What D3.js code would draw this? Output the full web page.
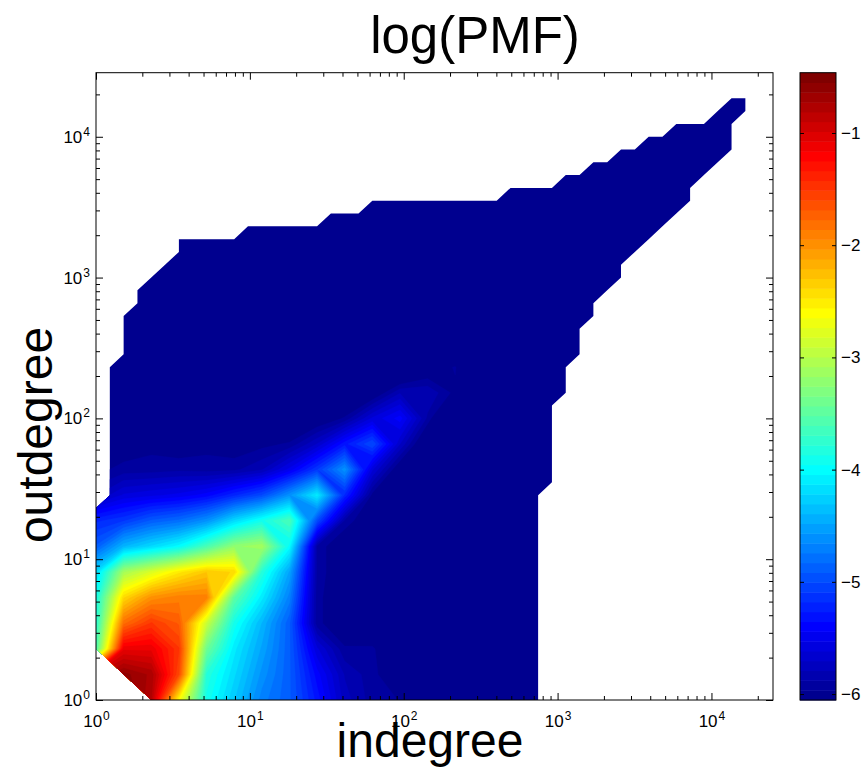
<!DOCTYPE html>
<html><head><meta charset="utf-8">
<script src="https://cdn.jsdelivr.net/npm/d3@7"></script>
<style>
body{margin:0;background:#fff;}
svg{display:block;}
text{font-family:"Liberation Sans",Arial,Helvetica,sans-serif;fill:#000;}
</style>
</head><body>
<svg id="chart" width="861" height="768"></svg>
<script>
// ---------------- DATA ----------------
const titleText = "log(PMF)";
const xLabelText = "indegree";
const yLabelText = "outdegree";

// log10 extents of the binned degree grid (50 log-spaced bins per axis)
const logXMax = 4.4;
const logYMax = 4.455;
const nBins = 50;

// support of the histogram: for each indegree bin j, highest / lowest non-empty outdegree bin
const maskTop = [15,26,30,32,33,34,36,36,36,36,36,37,37,37,37,37,37,38,38,38,
                 39,39,39,39,39,39,39,39,39,39,40,40,40,40,41,41,42,42,43,43,
                 44,44,45,45,45,46,47,47];
const maskBottom = [4,3,2,1,0,0,0,0,0,0,0,0,0,0,0,0,0,0,0,0,
                    0,0,0,0,0,0,0,0,0,0,0,0,0,17,24,27,30,32,33,35,
                    36,37,38,39,41,42,43,46];

// log10(PMF) sampled every 2nd bin (rows = outdegree bins 0,2,4..., cols = indegree bins 0,2,4...)
const logPmf = [
  [-0.9,-0.5,-0.8,-2.6,-3.9,-4.3,-4.7,-4.9,-5.3,-5.75,-5.92,-5.97,-6.3,-6.5,-6.5],
  [-0.9,-0.6,-0.75,-1.6,-3.8,-4.2,-4.6,-4.9,-5.4,-5.8,-5.93,-6.1,-6.3,-6.5,-6.5],
  [-3.6,-1.1,-1.1,-1.5,-3.4,-4.1,-4.5,-4.9,-5.6,-5.95,-5.94,-6.2,-6.4,-6.5,-6.5],
  [-3.8,-1.8,-1.5,-1.7,-2.9,-3.9,-4.4,-4.9,-5.93,-6.1,-6.2,-6.3,-6.4,-6.5,-6.5],
  [-3.9,-2.4,-2.0,-1.9,-1.9,-3.5,-4.1,-4.7,-5.93,-6.1,-6.2,-6.3,-6.4,-6.5,-6.5],
  [-4.2,-3.1,-2.8,-2.5,-2.3,-2.4,-3.8,-4.5,-5.9,-6.1,-6.2,-6.3,-6.4,-6.5,-6.5],
  [-4.9,-4.4,-4.2,-4.0,-3.6,-3.2,-3.1,-4.0,-5.9,-6.1,-6.2,-6.3,-6.4,-6.5,-6.5],
  [-5.2,-5.1,-4.9,-4.8,-4.6,-4.2,-3.9,-3.6,-5.0,-5.9,-6.1,-6.3,-6.4,-6.5,-6.5],
  [-5.8,-5.6,-5.55,-5.5,-5.4,-5.2,-5.0,-4.6,-4.1,-5.2,-6.0,-6.2,-6.4,-6.5,-6.5],
  [-6.0,-5.93,-5.92,-5.9,-5.92,-5.9,-5.8,-5.5,-5.1,-4.6,-5.6,-6.1,-6.3,-6.5,-6.5],
  [-6.2,-6.05,-6.0,-6.05,-6.0,-6.05,-6.0,-5.95,-5.7,-5.3,-5.0,-5.7,-6.2,-6.5,-6.5],
  [-6.3,-6.2,-6.2,-6.2,-6.2,-6.2,-6.2,-6.2,-6.1,-5.95,-5.6,-5.4,-5.9,-6.4,-6.5],
  [-6.4,-6.3,-6.3,-6.3,-6.3,-6.3,-6.3,-6.3,-6.3,-6.2,-6.1,-5.8,-5.8,-6.0,-6.5],
  [-6.5,-6.5,-6.5,-6.5,-6.5,-6.5,-6.5,-6.5,-6.5,-6.5,-6.5,-6.3,-6.1,-5.95,-6.5],
  [-6.5,-6.5,-6.5,-6.5,-6.5,-6.5,-6.5,-6.5,-6.5,-6.5,-6.5,-6.5,-6.5,-6.5,-6.5]
];
const sampleStep = 2;

const colorRange = [-6.053, -0.463];
const nColors = 64;
const colorbarTicks = [-6,-5,-4,-3,-2,-1];
const majorTicks = [1,10,100,1000,10000];
const minorMultipliers = [2,3,4,5,6,7,8,9];

// ---------------- LAYOUT ----------------
const W = 861, H = 768;
const plot = {left:96, right:773, top:72.7, bottom:700};
const cbar = {left:800, right:836, top:72.7, bottom:700};
const FONT = '"Liberation Sans",Arial,Helvetica,sans-serif';

const svg = d3.select("#chart");
svg.append("rect").attr("width",W).attr("height",H).attr("fill","#fff");

const dxLog = logXMax/(nBins-1), dyLog = logYMax/(nBins-1);
const x = d3.scaleLog().domain([1, Math.pow(10,logXMax)]).range([plot.left, plot.right]);
const y = d3.scaleLog().domain([1, Math.pow(10,logYMax)]).range([plot.bottom, plot.top]);
const xb = j => x(Math.pow(10, j*dxLog));
const yb = i => y(Math.pow(10, i*dyLog));

// MATLAB jet(64) colormap
function jetMap(m){
  const n = Math.ceil(m/4);
  const u = [];
  for(let i=1;i<=n;i++) u.push(i/n);
  for(let i=1;i<n;i++) u.push(1);
  for(let i=n;i>=1;i--) u.push(i/n);
  const g0 = Math.ceil(n/2) - (m%4===1?1:0);
  const J = Array.from({length:m},()=>[0,0,0]);
  u.forEach((val,idx)=>{
    const g = g0 + idx + 1, r = g + n, b = g - n;
    if(r>=1 && r<=m) J[r-1][0]=val;
    if(g>=1 && g<=m) J[g-1][1]=val;
    if(b>=1 && b<=m) J[b-1][2]=val;
  });
  return J.map(c=>d3.rgb(c[0]*255,c[1]*255,c[2]*255).toString());
}
const jet = jetMap(nColors);
const step = (colorRange[1]-colorRange[0])/nColors;

// ---------------- MASK (support polygon) ----------------
function maskPolygon(){
  const nCol = maskTop.length;
  const top = [[0, maskTop[0]]];
  for(let j=0;j<nCol-1;j++){
    const h = maskTop[j], h2 = maskTop[j+1];
    if(h2>h){ top.push([j+1,h+1]); top.push([j+1,h2]); }
    else if(h2<h){ top.push([j,h2+1]); top.push([j+1,h2]); }
    else top.push([j+1,h2]);
  }
  const bot = [[0, maskBottom[0]]];
  for(let j=0;j<nCol-1;j++){
    const l = maskBottom[j], l2 = maskBottom[j+1];
    if(l2>l){ bot.push([j,l2-1]); bot.push([j+1,l2]); }
    else if(l2<l){ bot.push([j+1,l-1]); bot.push([j+1,l2]); }
    else bot.push([j+1,l2]);
  }
  const pts = top.concat(bot.reverse());
  return pts.map(p=>[xb(p[0]), yb(p[1])]);
}
const defs = svg.append("defs");
defs.append("clipPath").attr("id","maskClip")
  .append("polygon").attr("points", maskPolygon().map(p=>p.join(",")).join(" "));

// ---------------- CONTOURS ----------------
const R = logPmf.length, C = logPmf[0].length;
const values = [];
for(let r=0;r<R;r++) for(let c=0;c<C;c++) values.push(logPmf[r][c]);
const thresholds = d3.range(1,nColors).map(k=>colorRange[0]+k*step);
const contours = d3.contours().size([C,R]).thresholds(thresholds)(values);

const proj = d3.geoTransform({
  point: function(u,v){
    const lx = (u-0.5)*sampleStep*dxLog, ly = (v-0.5)*sampleStep*dyLog;
    this.stream.point(x(Math.pow(10,lx)), y(Math.pow(10,ly)));
  }
});
const path = d3.geoPath(proj);

const gMap = svg.append("g").attr("clip-path","url(#maskClip)");
gMap.append("rect").attr("x",plot.left-20).attr("y",plot.top).attr("width",plot.right-plot.left+20)
  .attr("height",plot.bottom-plot.top+20).attr("fill",jet[0]);
gMap.selectAll("path.band").data(contours).join("path")
  .attr("class","band")
  .attr("d",path)
  .attr("fill",(d,i)=>jet[i+1])
  .attr("stroke",(d,i)=>jet[i+1])
  .attr("stroke-width",0.3);

// ---------------- AXES ----------------
function minorTicks(maxVal){
  const t=[];
  for(let e=0;e<=5;e++) minorMultipliers.forEach(k=>{ const v=k*Math.pow(10,e); if(v<=maxVal) t.push(v); });
  return t;
}
const xMinor = minorTicks(x.domain()[1]);
const yMinor = minorTicks(y.domain()[1]);
const expOf = v => Math.round(Math.log10(v));

function styleAxis(g){
  g.attr("font-family",FONT);
  g.select(".domain").remove();
  g.selectAll(".tick line").attr("stroke","#000").attr("stroke-width",1);
}
function supLabels(g){
  g.selectAll(".tick text").each(function(d){
    const t = d3.select(this);
    t.text(null).attr("font-size",17).attr("fill","#000");
    t.append("tspan").text("10");
    t.append("tspan").attr("font-size",12).attr("dx",1).attr("dy",-7).text(expOf(d));
  });
}
// bottom
svg.append("g").attr("transform",`translate(0,${plot.bottom})`)
  .call(d3.axisBottom(x).tickValues(majorTicks).tickSize(-7).tickSizeOuter(0).tickPadding(15).tickFormat(d=>d))
  .call(styleAxis).call(supLabels);
svg.append("g").attr("transform",`translate(0,${plot.bottom})`)
  .call(d3.axisBottom(x).tickValues(xMinor).tickSize(-4).tickSizeOuter(0).tickFormat(""))
  .call(styleAxis);
// top
svg.append("g").attr("transform",`translate(0,${plot.top})`)
  .call(d3.axisTop(x).tickValues(majorTicks).tickSize(-7).tickSizeOuter(0).tickFormat(""))
  .call(styleAxis);
svg.append("g").attr("transform",`translate(0,${plot.top})`)
  .call(d3.axisTop(x).tickValues(xMinor).tickSize(-4).tickSizeOuter(0).tickFormat(""))
  .call(styleAxis);
// left
svg.append("g").attr("transform",`translate(${plot.left},0)`)
  .call(d3.axisLeft(y).tickValues(majorTicks).tickSize(-7).tickSizeOuter(0).tickPadding(6).tickFormat(d=>d))
  .call(styleAxis).call(supLabels);
svg.append("g").attr("transform",`translate(${plot.left},0)`)
  .call(d3.axisLeft(y).tickValues(yMinor).tickSize(-4).tickSizeOuter(0).tickFormat(""))
  .call(styleAxis);
// right
svg.append("g").attr("transform",`translate(${plot.right},0)`)
  .call(d3.axisRight(y).tickValues(majorTicks).tickSize(-7).tickSizeOuter(0).tickFormat(""))
  .call(styleAxis);
svg.append("g").attr("transform",`translate(${plot.right},0)`)
  .call(d3.axisRight(y).tickValues(yMinor).tickSize(-4).tickSizeOuter(0).tickFormat(""))
  .call(styleAxis);
// box
svg.append("rect").attr("x",plot.left).attr("y",plot.top)
  .attr("width",plot.right-plot.left).attr("height",plot.bottom-plot.top)
  .attr("fill","none").attr("stroke","#000").attr("stroke-width",1);

// ---------------- COLORBAR ----------------
const cy = d3.scaleLinear().domain(colorRange).range([cbar.bottom, cbar.top]);
svg.append("g").selectAll("rect").data(d3.range(nColors)).join("rect")
  .attr("x",cbar.left).attr("width",cbar.right-cbar.left)
  .attr("y",k=>cy(colorRange[0]+(k+1)*step))
  .attr("height",k=>cy(colorRange[0]+k*step)-cy(colorRange[0]+(k+1)*step)+0.5)
  .attr("fill",k=>jet[k]);
svg.append("g").attr("transform",`translate(${cbar.left},0)`)
  .call(d3.axisLeft(cy).tickValues(colorbarTicks).tickSize(-4).tickSizeOuter(0).tickFormat(""))
  .call(styleAxis);
const cbAxisR = svg.append("g").attr("transform",`translate(${cbar.right},0)`)
  .call(d3.axisRight(cy).tickValues(colorbarTicks).tickSize(-4).tickSizeOuter(0).tickPadding(5)
    .tickFormat(d=>"\u2212"+Math.abs(d)))
  .call(styleAxis);
cbAxisR.selectAll(".tick text").attr("font-size",17).attr("fill","#000");
svg.append("rect").attr("x",cbar.left).attr("y",cbar.top)
  .attr("width",cbar.right-cbar.left).attr("height",cbar.bottom-cbar.top)
  .attr("fill","none").attr("stroke","#000").attr("stroke-width",1);

// ---------------- TITLES ----------------
svg.append("text").attr("x",475).attr("y",53).attr("text-anchor","middle")
  .attr("font-size",51).text(titleText);
svg.append("text").attr("x",430).attr("y",757).attr("text-anchor","middle")
  .attr("font-size",48).text(xLabelText);
svg.append("text").attr("transform","translate(52,435) rotate(-90)").attr("text-anchor","middle")
  .attr("font-size",48).text(yLabelText);
</script>
</body></html>
